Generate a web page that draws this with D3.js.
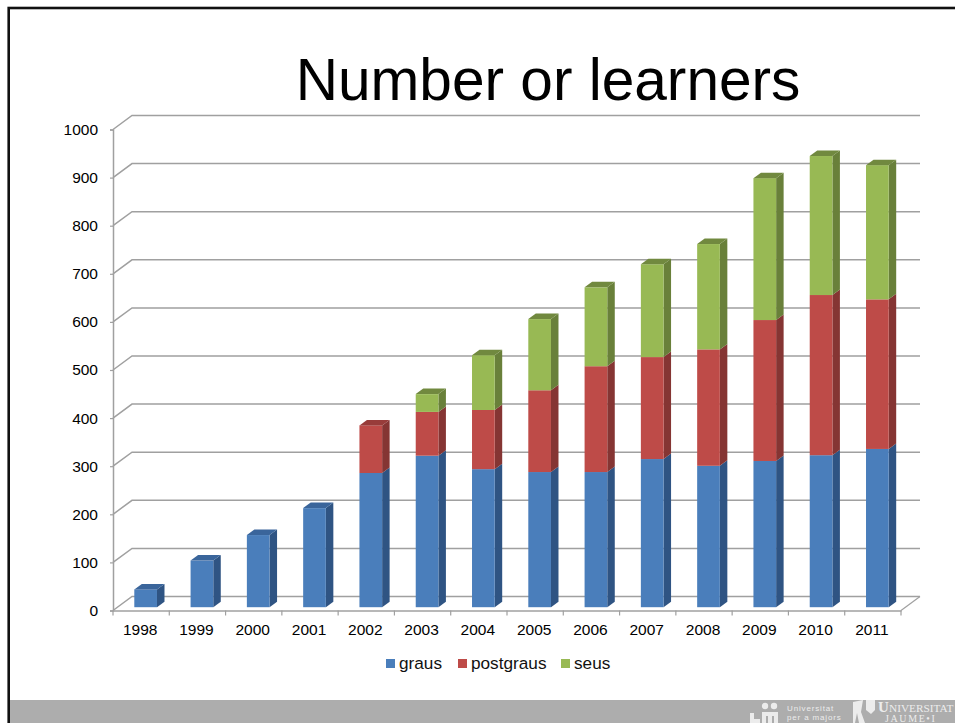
<!DOCTYPE html>
<html>
<head>
<meta charset="utf-8">
<script src="https://cdn.jsdelivr.net/npm/d3@7"></script>
<style>
html,body{margin:0;padding:0;background:#fff;overflow:hidden}
text{font-family:"Liberation Sans",Arial,sans-serif}
</style>
</head>
<body>
<div id="chart"></div>
<script>
// values, each series is its own layer of the stack
var years = ["1998","1999","2000","2001","2002","2003","2004","2005","2006","2007","2008","2009","2010","2011"]
var graus = [37,97,150,206,279,315,287,281,281,308,294,304,316,329]
var postgraus = [0,0,0,0,99,91,123,170,220,212,242,293,333,311]
var seus = [0,0,0,0,0,37,114,148,164,193,219,295,289,279]
var yTicks = [0,100,200,300,400,500,600,700,800,900,1000]
var seriesNames = ["graus","postgraus","seus"]

var w = 955
var h = 723
var depthX = 19, depthY = 14   // wall offset of the 3d box
var barDX = 7.5, barDY = 5.5   // depth of a bar
var barShiftX = 4.5, barShiftY = 3.3

var colors = {
    graus: {front:"#4a7ebb", side:"#2f5483", top:"#3a659b"},
    postgraus: {front:"#be4b48", side:"#853533", top:"#983c3a"},
    seus: {front:"#98b954", side:"#69803a", top:"#71893f"}
}

var svg = d3.select("#chart").append("svg").attr("width",w).attr("height",h)

// slide frame
svg.append("rect").attr("x",8.7).attr("y",8).attr("width",w).attr("height",h).attr("fill","#fff").attr("stroke","#111").attr("stroke-width",2.6)
svg.append("rect").attr("x",10).attr("y",700).attr("width",w-10).attr("height",23).attr("fill","#adadad")

svg.append("text").attr("x",548).attr("y",100).attr("text-anchor","middle")
    .style("font-size","58.6px").style("fill","#000").text("Number or learners")

var x = d3.scaleBand().domain(years).range([113,901])
var y = d3.scaleLinear().domain([0,1000]).range([610.5,129.5])

// walls
var grid = svg.append("g")
grid.selectAll("path").data(yTicks).enter().append("path")
    .attr("d",function(d){
        return "M"+x.range()[0]+","+y(d)+"L"+(x.range()[0]+depthX)+","+(y(d)-depthY)+"H"+(x.range()[1]+depthX)
    })
    .attr("fill","none").attr("stroke","#a0a0a0").attr("stroke-width",1.5)
// floor front edge and right side
svg.append("path")
    .attr("d","M"+x.range()[1]+","+y(0)+"L"+(x.range()[1]+depthX)+","+(y(0)-depthY))
    .attr("fill","none").attr("stroke","#a0a0a0").attr("stroke-width",1.2)

var axisY = svg.append("g").attr("transform","translate(113,0)")
    .call(d3.axisLeft(y).tickValues(yTicks).tickFormat(d3.format("d")).tickSize(3).tickPadding(12))
var axisX = svg.append("g").attr("transform","translate(0,"+y(0)+")")
    .call(d3.axisBottom(x).tickSize(0).tickPadding(13))
axisX.selectAll(".between").data(d3.range(years.length+1)).enter().append("line")
    .attr("class","between")
    .attr("x1",function(i){return x.range()[0]+i*x.step()})
    .attr("x2",function(i){return x.range()[0]+i*x.step()})
    .attr("y1",0).attr("y2",5)
    .attr("stroke","#a0a0a0").attr("stroke-width",1.2)
axisX.selectAll(".tick text").attr("dx",-1)
svg.selectAll(".domain").attr("stroke","#a0a0a0").attr("stroke-width",1.5)
svg.selectAll(".tick line").attr("stroke","#a0a0a0").attr("stroke-width",1.2)
svg.selectAll(".tick text").style("font-size","15.5px").style("fill","#000").attr("font-family",null)

// stacked 3d bars
var rows = years.map(function(yr,i){
    return {year:yr,graus:graus[i],postgraus:postgraus[i],seus:seus[i]}
})
var layers = d3.stack().keys(seriesNames)(rows)
var barW = x.step()*0.403

var layerG = svg.append("g").selectAll("g").data(layers).enter().append("g")
    .attr("class",function(d){return d.key})

function bx(d){ return x(d.data.year)+x.bandwidth()/2-barW/2+barShiftX }

layerG.each(function(layer){
    var g = d3.select(this)
    var c = colors[layer.key]
    var vis = layer.filter(function(d){return d[1]>d[0]})
    g.selectAll(".side").data(vis).enter().append("path").attr("class","side")
        .attr("fill",c.side)
        .attr("d",function(d){
            var x1 = bx(d)+barW, t = y(d[1])-barShiftY, b = y(d[0])-barShiftY
            return "M"+x1+","+t+"l"+barDX+","+(-barDY)+"V"+(b-barDY)+"l"+(-barDX)+","+barDY+"Z"
        })
    g.selectAll(".front").data(vis).enter().append("rect").attr("class","front")
        .attr("x",bx).attr("width",barW)
        .attr("y",function(d){return y(d[1])-barShiftY})
        .attr("height",function(d){return y(d[0])-y(d[1])})
        .attr("fill",c.front)
    // only the last layer of a bar shows its top
    g.selectAll(".top").data(vis.filter(function(d){
            var i = years.indexOf(d.data.year)
            return d[1]===graus[i]+postgraus[i]+seus[i]
        })).enter().append("path").attr("class","top")
        .attr("fill",c.top)
        .attr("d",function(d){
            var t = y(d[1])-barShiftY
            return "M"+bx(d)+","+t+"l"+barDX+","+(-barDY)+"h"+barW+"l"+(-barDX)+","+barDY+"Z"
        })
})

// legend
var legendX = d3.scaleOrdinal().domain(seriesNames).range([386,458,561])
var legend = svg.append("g").selectAll("g").data(seriesNames).enter().append("g")
    .attr("transform",function(d){return "translate("+legendX(d)+",659)"})
legend.append("rect").attr("width",9).attr("height",9).attr("fill",function(d){return colors[d].front})
legend.append("text").attr("x",13).attr("y",9.5).style("font-size","17.2px").style("fill","#111").text(function(d){return d})

// footer logos
var logo = svg.append("g").attr("fill","#ececec")
logo.append("circle").attr("cx",765).attr("cy",706).attr("r",3.2)
logo.append("circle").attr("cx",774).attr("cy",706).attr("r",3.2)
logo.append("path").attr("fill","none").attr("stroke","#ececec").attr("stroke-width",4)
    .attr("d","M752,713V721H760M764,723V714H776V723M770,714V723")
logo.append("text").attr("x",787).attr("y",711).style("font-size","8px").style("letter-spacing","0.85px").text("Universitat")
logo.append("text").attr("x",787).attr("y",720).style("font-size","8px").style("letter-spacing","0.85px").text("per a majors")
logo.append("path").attr("d","M853,702L863,700L861,712L865,723H859L857,713L855,723H853Z")
logo.append("path").attr("d","M866,700H875V710L871,714L866,710Z")
logo.append("text").attr("x",878).attr("y",712).style("font-family","Liberation Serif").style("font-size","15px").style("font-weight","bold").text("U")
logo.append("text").attr("x",889).attr("y",712).style("font-family","Liberation Serif").style("font-size","11.3px").text("NIVERSITAT")
logo.append("text").attr("x",885).attr("y",722).style("font-family","Liberation Serif").style("font-size","10px").style("letter-spacing","1.6px").text("JAUME•I")
</script>
</body>
</html>
